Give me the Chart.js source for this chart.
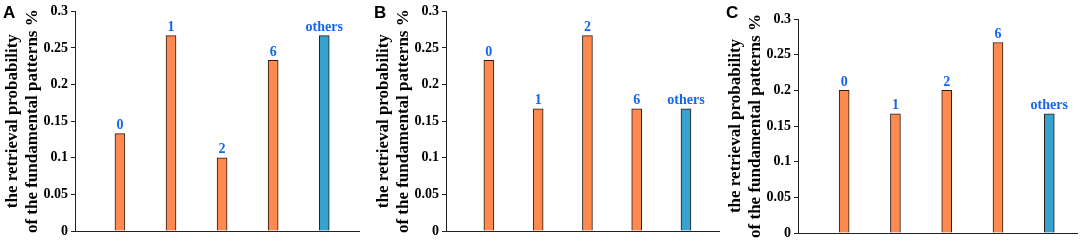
<!DOCTYPE html>
<html>
<head>
<meta charset="utf-8">
<script src="https://cdn.jsdelivr.net/npm/chart.js@4.4.1/dist/chart.umd.min.js"></script>
<style>
  body { margin: 0; background: #fff; width: 1084px; height: 251px; position: relative; overflow: hidden; }
  .panel { position: absolute; top: 0; height: 251px; }
</style>
</head>
<body>
<div class="panel" style="left:0px;width:360px"><canvas id="chartA"></canvas></div>
<div class="panel" style="left:371px;width:349px"><canvas id="chartB"></canvas></div>
<div class="panel" style="left:723px;width:355px"><canvas id="chartC"></canvas></div>
<script>
let categories = ['0', '1', '2', '6', 'others'];
let valuesA = [0.133, 0.267, 0.1, 0.233, 0.267];
let valuesB = [0.233, 0.167, 0.267, 0.167, 0.167];
let valuesC = [0.2, 0.167, 0.2, 0.267, 0.167];
let yTicks = [0, 0.05, 0.1, 0.15, 0.2, 0.25, 0.3];

let orange = '#FF8A50';
let blue = '#36A2CE';
let labelBlue = '#1466EE';
let serif = "'Liberation Serif', 'Times New Roman', serif";

// text above each bar + the panel letter
let barLabels = {
  id: 'barLabels',
  afterDatasetsDraw(chart, args, opts) {
    let ctx = chart.ctx;
    ctx.save();
    ctx.font = 'bold 14px ' + serif;
    ctx.fillStyle = labelBlue;
    ctx.textAlign = 'center';
    ctx.textBaseline = 'bottom';
    chart.getDatasetMeta(0).data.forEach((bar, i) => {
      ctx.fillText(categories[i], bar.x, bar.y - 1);
    });
    ctx.font = 'bold 17px "Liberation Sans", Arial, sans-serif';
    ctx.fillStyle = '#000';
    ctx.textAlign = 'left';
    ctx.textBaseline = 'alphabetic';
    ctx.fillText(opts.letter, 3, 18);
    ctx.restore();
  }
};

function makePanel(id, letter, values, xMin, xMax, padTop, padBottom) {
  let ctx = document.getElementById(id).getContext('2d');
  return new Chart(ctx, {
    type: 'bar',
    data: {
      datasets: [{
        data: values.map((v, i) => ({ x: i + 1, y: v })),
        backgroundColor: values.map((v, i) => categories[i] === 'others' ? blue : orange),
        borderColor: '#2a1a10',
        borderWidth: 1,
        borderSkipped: 'bottom',
        barThickness: 10
      }]
    },
    options: {
      responsive: true,
      maintainAspectRatio: false,
      animation: false,
      layout: { padding: { top: padTop, bottom: padBottom, left: 0, right: 0 } },
      plugins: {
        legend: { display: false },
        tooltip: { enabled: false },
        barLabels: { letter: letter }
      },
      scales: {
        x: {
          type: 'linear',
          offset: false,
          min: xMin,
          max: xMax,
          ticks: { display: false },
          grid: { display: false },
          border: { display: true, color: '#222', width: 1 }
        },
        y: {
          min: 0,
          max: 0.3,
          afterBuildTicks: (scale) => {
            scale.ticks = yTicks.map(v => ({ value: v }));
          },
          afterFit: (scale) => { scale.width = 75; },
          ticks: {
            color: '#000',
            padding: 3,
            font: { family: serif, size: 14, weight: 'bold' },
            callback: (v) => String(v)
          },
          grid: { drawOnChartArea: false, drawTicks: true, tickLength: 4, color: '#222' },
          border: { display: true, color: '#222', width: 1 },
          title: {
            display: true,
            text: ['the retrieval probability', 'of the fundamental patterns %'],
            color: '#000',
            padding: { top: 3, bottom: 0 },
            font: { family: serif, size: 17, weight: 'bold', lineHeight: 1.18 }
          }
        }
      }
    },
    plugins: [barLabels]
  });
}

makePanel('chartA', 'A', valuesA, 0.12, 5.7, 10, 12);
makePanel('chartB', 'B', valuesB, 0.13, 5.69, 10, 12);
makePanel('chartC', 'C', valuesC, 0.1, 5.56, 19, 10);
</script>
</body>
</html>
